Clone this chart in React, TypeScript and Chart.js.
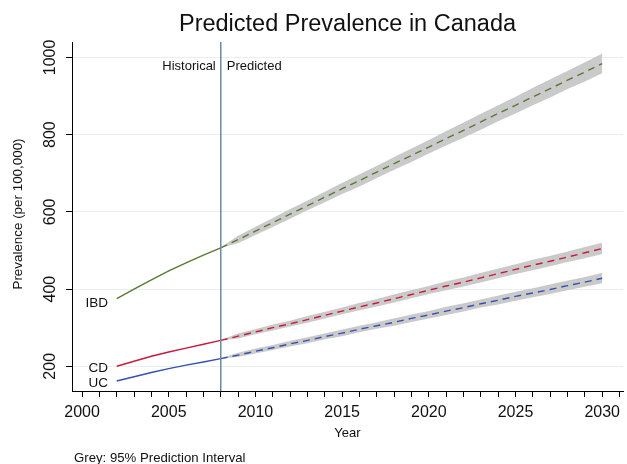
import React, { useEffect, useRef } from "react";
import { Chart, registerables } from "chart.js";

Chart.register(...registerables);

const FONT = "Arial, 'Liberation Sans', sans-serif";

const histYears = [2002, 2003, 2004, 2005, 2006, 2007, 2008];
const ibdHist = [375, 400, 424, 447, 468, 488, 507];
const cdHist = [200, 213, 226, 237, 247, 257, 267];
const ucHist = [162, 173, 184, 194, 203, 211, 220];

const predYears = [2008, 2009, 2010, 2011, 2012, 2013, 2014, 2015, 2016, 2017, 2018, 2019, 2020, 2021, 2022, 2023, 2024, 2025, 2026, 2027, 2028, 2029, 2030];
const ibdPred = [507, 528, 550, 572, 594, 616, 638, 660, 681, 703, 725, 746, 768, 790, 811, 833, 855, 876, 898, 919, 941, 962, 984];
const ibdUpper = [507, 537, 560, 583, 606, 628, 651, 674, 696, 718, 741, 763, 785, 808, 830, 853, 875, 897, 920, 942, 964, 986, 1009];
const ibdLower = [507, 519, 540, 561, 582, 604, 625, 646, 666, 688, 709, 729, 751, 772, 792, 813, 835, 855, 876, 896, 918, 938, 959];
const cdPred = [267, 278, 289, 300, 310, 321, 332, 343, 354, 364, 375, 386, 397, 408, 418, 429, 440, 451, 462, 472, 483, 494, 505];
const cdUpper = [267, 284, 295, 307, 317, 329, 340, 351, 363, 373, 385, 396, 407, 419, 429, 441, 452, 463, 475, 485, 496, 508, 519];
const cdLower = [267, 272, 283, 293, 303, 313, 324, 335, 345, 355, 365, 376, 387, 397, 407, 417, 428, 439, 449, 459, 470, 480, 491];
const ucPred = [220, 229, 239, 248, 258, 267, 277, 286, 296, 305, 314, 324, 333, 343, 352, 362, 371, 381, 390, 399, 409, 418, 428];
const ucUpper = [220, 234, 245, 254, 265, 274, 284, 294, 304, 313, 323, 333, 342, 353, 362, 372, 382, 392, 401, 411, 421, 430, 441];
const ucLower = [220, 224, 233, 242, 251, 260, 270, 278, 288, 297, 305, 315, 324, 333, 342, 352, 360, 370, 379, 387, 397, 406, 415];

const xTicks = [2000, 2001, 2002, 2003, 2004, 2005, 2006, 2007, 2008, 2009, 2010, 2011, 2012, 2013, 2014, 2015, 2016, 2017, 2018, 2019, 2020, 2021, 2022, 2023, 2024, 2025, 2026, 2027, 2028, 2029, 2030, 2031];
const xLabels = [2000, 2005, 2010, 2015, 2020, 2025, 2030];
const yTicks = [200, 400, 600, 800, 1000];

const seriesLabels = ["IBD", "CD", "UC"];
const labelYears = [2001.5, 2001.5, 2001.5];
const labelValues = [363, 195, 156];
const splitYear = 2008;

const TITLE = "Predicted Prevalence in Canada";
const Y_TITLE = "Prevalence (per 100,000)";
const X_TITLE = "Year";
const NOTE = "Grey: 95% Prediction Interval";

const GREEN = "#5a7a32";
const RED = "#c81a3c";
const BLUE = "#3550b0";
const BAND = "#cacaca";

const pts = (xs: number[], ys: number[]) => xs.map((x, i) => ({ x, y: ys[i] }));

export default function App() {
  const ref = useRef<HTMLCanvasElement | null>(null);
  useEffect(() => {
    const canvas = ref.current;
    if (!canvas) return;

    const overlay = {
      id: "overlay",
      afterDatasetsDraw(chart: any) {
        const ctx = chart.ctx;
        const xs = chart.scales.x;
        const ys = chart.scales.y;
        const area = chart.chartArea;
        ctx.save();
        const vx = xs.getPixelForValue(splitYear);
        ctx.strokeStyle = "#6a8aa6";
        ctx.lineWidth = 1.5;
        ctx.beginPath();
        ctx.moveTo(vx, area.top);
        ctx.lineTo(vx, area.bottom);
        ctx.stroke();
        ctx.fillStyle = "#111";
        ctx.font = `13px ${FONT}`;
        ctx.textBaseline = "middle";
        const ty = ys.getPixelForValue(977);
        ctx.textAlign = "right";
        ctx.fillText("Historical", vx - 5, ty);
        ctx.textAlign = "left";
        ctx.fillText("Predicted", vx + 6, ty);
        ctx.font = `13.5px ${FONT}`;
        ctx.textAlign = "right";
        seriesLabels.forEach((s, i) => {
          ctx.fillText(s, xs.getPixelForValue(labelYears[i]), ys.getPixelForValue(labelValues[i]));
        });
        ctx.restore();
      },
      afterDraw(chart: any) {
        const ctx = chart.ctx;
        const ys = chart.scales.y;
        const area = chart.chartArea;
        ctx.save();
        ctx.fillStyle = "#111";
        ctx.font = `16px ${FONT}`;
        ctx.textAlign = "center";
        ctx.textBaseline = "middle";
        yTicks.forEach((v) => {
          const py = ys.getPixelForValue(v);
          ctx.save();
          ctx.translate(51, py);
          ctx.rotate(-Math.PI / 2);
          ctx.fillText(String(v), 0, 0);
          ctx.restore();
        });
        ctx.font = `13.4px ${FONT}`;
        ctx.save();
        ctx.translate(18, 214);
        ctx.rotate(-Math.PI / 2);
        ctx.fillText(Y_TITLE, 0, 0);
        ctx.restore();
        ctx.font = `23.5px ${FONT}`;
        ctx.fillText(TITLE, (area.left + area.right) / 2, 25);
        ctx.font = `13px ${FONT}`;
        ctx.fillText(X_TITLE, (area.left + area.right) / 2, 433);
        ctx.textAlign = "left";
        ctx.font = `13.2px ${FONT}`;
        ctx.fillText(NOTE, 74, 458);
        ctx.restore();
      },
    };

    const lineDs = (data: any[], color: string, dashed: boolean) => ({
      data,
      borderColor: color,
      borderWidth: 1.4,
      borderDash: dashed ? [7, 5] : [],
      pointRadius: 0,
      fill: false,
      tension: 0,
      order: 1,
    });
    const bandLower = (data: any[]) => ({
      data,
      borderWidth: 0,
      borderColor: "rgba(0,0,0,0)",
      pointRadius: 0,
      fill: false,
      order: 10,
    });
    const bandUpper = (data: any[]) => ({
      data,
      borderWidth: 0.6,
      borderColor: "#bcbcbc",
      backgroundColor: BAND,
      pointRadius: 0,
      fill: "-1",
      order: 10,
    });

    const chart = new Chart(canvas, {
      type: "line",
      data: {
        datasets: [
          bandLower(pts(predYears, ibdLower)),
          bandUpper(pts(predYears, ibdUpper)),
          bandLower(pts(predYears, cdLower)),
          bandUpper(pts(predYears, cdUpper)),
          bandLower(pts(predYears, ucLower)),
          bandUpper(pts(predYears, ucUpper)),
          lineDs(pts(histYears, ibdHist), GREEN, false),
          lineDs(pts(predYears, ibdPred), GREEN, true),
          lineDs(pts(histYears, cdHist), RED, false),
          lineDs(pts(predYears, cdPred), RED, true),
          lineDs(pts(histYears, ucHist), BLUE, false),
          lineDs(pts(predYears, ucPred), BLUE, true),
        ] as any,
      },
      options: {
        animation: false,
        responsive: false,
        devicePixelRatio: 1,
        layout: { padding: { top: 42, right: 4, left: 0, bottom: 0 } },
        plugins: {
          legend: { display: false },
          title: { display: false },
          tooltip: { enabled: false },
        },
        scales: {
          x: {
            type: "linear",
            min: 1999.42,
            max: 2031.2,
            afterBuildTicks: (s: any) => {
              s.ticks = xTicks.map((v) => ({ value: v }));
            },
            afterFit: (s: any) => {
              s.height = 73;
            },
            ticks: {
              autoSkip: false,
              maxRotation: 0,
              minRotation: 0,
              padding: 6,
              color: "#111",
              font: { size: 16, family: FONT },
              callback: (v: any) => (xLabels.includes(Number(v)) ? String(v) : ""),
            },
            grid: {
              drawOnChartArea: false,
              tickLength: 6,
              tickColor: "#000",
              tickWidth: 1,
            },
            border: { display: true, color: "#000", width: 1 },
          },
          y: {
            type: "linear",
            min: 136,
            max: 1040,
            afterBuildTicks: (s: any) => {
              s.ticks = yTicks.map((v) => ({ value: v }));
            },
            afterFit: (s: any) => {
              s.width = 72;
            },
            ticks: { callback: () => "", padding: 0 },
            grid: {
              drawOnChartArea: true,
              color: "#e6eff1",
              lineWidth: 1,
              tickLength: 6,
              tickColor: "#000",
            },
            border: { display: true, color: "#000", width: 1 },
          },
        },
      } as any,
      plugins: [overlay],
    });
    return () => chart.destroy();
  }, []);

  return (
    <div style={{ position: "fixed", left: 0, top: 0, width: 627, height: 464, background: "#fff" }}>
      <canvas ref={ref} width={627} height={464} style={{ display: "block", width: 627, height: 464 }} />
    </div>
  );
}
